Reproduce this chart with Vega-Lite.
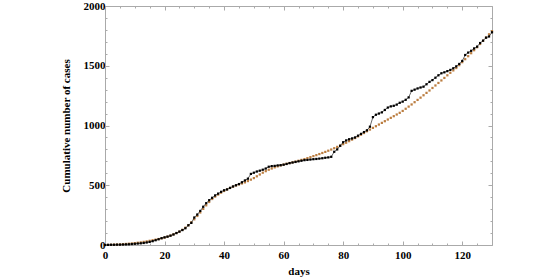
{
  "$schema": "https://vega.github.io/schema/vega-lite/v6.json",
  "autosize": "none",
  "width": 387,
  "height": 239,
  "padding": {"left": 105, "top": 6, "right": 64, "bottom": 33},
  "background": "white",
  "config": {
    "view": {"stroke": null},
    "axis": {
      "labelFont": "Liberation Serif",
      "titleFont": "Liberation Serif",
      "labelFontWeight": "bold",
      "titleFontWeight": "bold",
      "labelFontSize": 11,
      "titleFontSize": 11,
      "labelColor": "black",
      "titleColor": "black",
      "domainColor": "#aaaaaa",
      "tickColor": "#aaaaaa",
      "grid": false
    }
  },
  "datasets": {
    "obs": [
      {"day":0,"cases":0},{"day":1,"cases":1},{"day":2,"cases":2},{"day":3,"cases":2},{"day":4,"cases":3},{"day":5,"cases":3},{"day":6,"cases":4},{"day":7,"cases":5},{"day":8,"cases":6},{"day":9,"cases":8},
      {"day":10,"cases":10},{"day":11,"cases":12},{"day":12,"cases":14},{"day":13,"cases":17},{"day":14,"cases":21},{"day":15,"cases":26},{"day":16,"cases":32},{"day":17,"cases":40},{"day":18,"cases":48},{"day":19,"cases":57},
      {"day":20,"cases":64},{"day":21,"cases":70},{"day":22,"cases":78},{"day":23,"cases":88},{"day":24,"cases":100},{"day":25,"cases":112},{"day":26,"cases":125},{"day":27,"cases":140},{"day":28,"cases":165},{"day":29,"cases":185},
      {"day":30,"cases":230},{"day":31,"cases":255},{"day":32,"cases":285},{"day":33,"cases":320},{"day":34,"cases":350},{"day":35,"cases":375},{"day":36,"cases":395},{"day":37,"cases":415},{"day":38,"cases":430},{"day":39,"cases":445},
      {"day":40,"cases":458},{"day":41,"cases":465},{"day":42,"cases":478},{"day":43,"cases":490},{"day":44,"cases":500},{"day":45,"cases":510},{"day":46,"cases":525},{"day":47,"cases":540},{"day":48,"cases":555},{"day":49,"cases":595},
      {"day":50,"cases":605},{"day":51,"cases":615},{"day":52,"cases":622},{"day":53,"cases":630},{"day":54,"cases":640},{"day":55,"cases":655},{"day":56,"cases":660},{"day":57,"cases":662},{"day":58,"cases":666},{"day":59,"cases":668},
      {"day":60,"cases":672},{"day":61,"cases":678},{"day":62,"cases":685},{"day":63,"cases":690},{"day":64,"cases":695},{"day":65,"cases":700},{"day":66,"cases":705},{"day":67,"cases":710},{"day":68,"cases":712},{"day":69,"cases":715},
      {"day":70,"cases":718},{"day":71,"cases":720},{"day":72,"cases":723},{"day":73,"cases":726},{"day":74,"cases":730},{"day":75,"cases":733},{"day":76,"cases":738},{"day":77,"cases":780},{"day":78,"cases":800},{"day":79,"cases":830},
      {"day":80,"cases":860},{"day":81,"cases":875},{"day":82,"cases":885},{"day":83,"cases":892},{"day":84,"cases":900},{"day":85,"cases":915},{"day":86,"cases":930},{"day":87,"cases":945},{"day":88,"cases":960},{"day":89,"cases":990},
      {"day":90,"cases":1070},{"day":91,"cases":1090},{"day":92,"cases":1100},{"day":93,"cases":1110},{"day":94,"cases":1130},{"day":95,"cases":1150},{"day":96,"cases":1160},{"day":97,"cases":1165},{"day":98,"cases":1175},{"day":99,"cases":1190},
      {"day":100,"cases":1200},{"day":101,"cases":1215},{"day":102,"cases":1235},{"day":103,"cases":1290},{"day":104,"cases":1300},{"day":105,"cases":1310},{"day":106,"cases":1318},{"day":107,"cases":1325},{"day":108,"cases":1345},{"day":109,"cases":1365},
      {"day":110,"cases":1380},{"day":111,"cases":1400},{"day":112,"cases":1420},{"day":113,"cases":1437},{"day":114,"cases":1445},{"day":115,"cases":1455},{"day":116,"cases":1465},{"day":117,"cases":1479},{"day":118,"cases":1495},{"day":119,"cases":1515},
      {"day":120,"cases":1540},{"day":121,"cases":1590},{"day":122,"cases":1610},{"day":123,"cases":1625},{"day":124,"cases":1645},{"day":125,"cases":1660},{"day":126,"cases":1690},{"day":127,"cases":1710},{"day":128,"cases":1735},{"day":129,"cases":1745},
      {"day":130,"cases":1780}
    ],
    "model": [
      {"day":0,"cases":0},{"day":1,"cases":1},{"day":2,"cases":2},{"day":3,"cases":3},{"day":4,"cases":4},{"day":5,"cases":5},{"day":6,"cases":7},{"day":7,"cases":9},{"day":8,"cases":11},{"day":9,"cases":13},
      {"day":10,"cases":16},{"day":11,"cases":19},{"day":12,"cases":22},{"day":13,"cases":26},{"day":14,"cases":30},{"day":15,"cases":35},{"day":16,"cases":40},{"day":17,"cases":45},{"day":18,"cases":50},{"day":19,"cases":56},
      {"day":20,"cases":62},{"day":21,"cases":70},{"day":22,"cases":79},{"day":23,"cases":89},{"day":24,"cases":100},{"day":25,"cases":112},{"day":26,"cases":127},{"day":27,"cases":145},{"day":28,"cases":165},{"day":29,"cases":190},
      {"day":30,"cases":215},{"day":31,"cases":243},{"day":32,"cases":272},{"day":33,"cases":302},{"day":34,"cases":332},{"day":35,"cases":360},{"day":36,"cases":385},{"day":37,"cases":405},{"day":38,"cases":422},{"day":39,"cases":438},
      {"day":40,"cases":452},{"day":41,"cases":465},{"day":42,"cases":477},{"day":43,"cases":488},{"day":44,"cases":498},{"day":45,"cases":507},{"day":46,"cases":515},{"day":47,"cases":524},{"day":48,"cases":535},{"day":49,"cases":547},
      {"day":50,"cases":560},{"day":51,"cases":575},{"day":52,"cases":590},{"day":53,"cases":605},{"day":54,"cases":618},{"day":55,"cases":630},{"day":56,"cases":640},{"day":57,"cases":650},{"day":58,"cases":658},{"day":59,"cases":666},
      {"day":60,"cases":673},{"day":61,"cases":680},{"day":62,"cases":686},{"day":63,"cases":692},{"day":64,"cases":698},{"day":65,"cases":705},{"day":66,"cases":712},{"day":67,"cases":719},{"day":68,"cases":727},{"day":69,"cases":735},
      {"day":70,"cases":744},{"day":71,"cases":752},{"day":72,"cases":761},{"day":73,"cases":770},{"day":74,"cases":779},{"day":75,"cases":789},{"day":76,"cases":799},{"day":77,"cases":810},{"day":78,"cases":821},{"day":79,"cases":832},
      {"day":80,"cases":844},{"day":81,"cases":856},{"day":82,"cases":869},{"day":83,"cases":882},{"day":84,"cases":895},{"day":85,"cases":909},{"day":86,"cases":923},{"day":87,"cases":937},{"day":88,"cases":952},{"day":89,"cases":966},
      {"day":90,"cases":980},{"day":91,"cases":994},{"day":92,"cases":1008},{"day":93,"cases":1022},{"day":94,"cases":1036},{"day":95,"cases":1050},{"day":96,"cases":1064},{"day":97,"cases":1078},{"day":98,"cases":1092},{"day":99,"cases":1106},
      {"day":100,"cases":1122},{"day":101,"cases":1140},{"day":102,"cases":1158},{"day":103,"cases":1176},{"day":104,"cases":1195},{"day":105,"cases":1214},{"day":106,"cases":1233},{"day":107,"cases":1253},{"day":108,"cases":1273},{"day":109,"cases":1293},
      {"day":110,"cases":1314},{"day":111,"cases":1335},{"day":112,"cases":1356},{"day":113,"cases":1377},{"day":114,"cases":1398},{"day":115,"cases":1420},{"day":116,"cases":1441},{"day":117,"cases":1461},{"day":118,"cases":1481},{"day":119,"cases":1505},
      {"day":120,"cases":1530},{"day":121,"cases":1555},{"day":122,"cases":1580},{"day":123,"cases":1605},{"day":124,"cases":1630},{"day":125,"cases":1655},{"day":126,"cases":1682},{"day":127,"cases":1709},{"day":128,"cases":1736},{"day":129,"cases":1763},
      {"day":130,"cases":1790}
    ]
  },
  "resolve": {"axis": {"x": "independent", "y": "independent"}},
  "layer": [
    {
      "data": {"name": "model"},
      "mark": {"type": "square", "size": 5, "color": "#bb7d40", "opacity": 1},
      "encoding": {
        "x": {"field": "day", "type": "quantitative", "scale": {"domain": [0, 130], "nice": false},
          "axis": {"orient": "bottom", "title": "days", "values": [0,5,10,15,20,25,30,35,40,45,50,55,60,65,70,75,80,85,90,95,100,105,110,115,120,125,130],
            "labelExpr": "datum.value % 20 === 0 ? datum.label : ''",
            "tickSize": {"condition": {"test": "datum.value % 20 === 0", "value": -4}, "value": -2},
            "labelPadding": 8, "titlePadding": 3, "labelFlush": false, "labelOverlap": false}},
        "y": {"field": "cases", "type": "quantitative", "scale": {"domain": [0, 2000], "nice": false},
          "axis": {"orient": "left", "title": "Cumulative number of cases", "values": [0,100,200,300,400,500,600,700,800,900,1000,1100,1200,1300,1400,1500,1600,1700,1800,1900,2000],
            "labelExpr": "datum.value % 500 === 0 ? datum.label : ''", "format": "d",
            "tickSize": {"condition": {"test": "datum.value % 500 === 0", "value": -4}, "value": -2},
            "labelPadding": 4, "titlePadding": 12, "labelFlush": false, "labelOverlap": false}}
      }
    },
    {
      "data": {"name": "obs"},
      "mark": {"type": "line", "color": "black", "strokeWidth": 0.6},
      "encoding": {
        "x": {"field": "day", "type": "quantitative",
          "axis": {"orient": "top", "title": null, "labels": false, "values": [0,5,10,15,20,25,30,35,40,45,50,55,60,65,70,75,80,85,90,95,100,105,110,115,120,125,130],
            "tickSize": {"condition": {"test": "datum.value % 20 === 0", "value": -4}, "value": -2}}},
        "y": {"field": "cases", "type": "quantitative",
          "axis": {"orient": "right", "title": null, "labels": false, "values": [0,100,200,300,400,500,600,700,800,900,1000,1100,1200,1300,1400,1500,1600,1700,1800,1900,2000],
            "tickSize": {"condition": {"test": "datum.value % 500 === 0", "value": -4}, "value": -2}}}
      }
    },
    {
      "data": {"name": "obs"},
      "mark": {"type": "square", "size": 5, "color": "black", "opacity": 1},
      "encoding": {
        "x": {"field": "day", "type": "quantitative", "axis": null},
        "y": {"field": "cases", "type": "quantitative", "axis": null}
      }
    }
  ]
}
